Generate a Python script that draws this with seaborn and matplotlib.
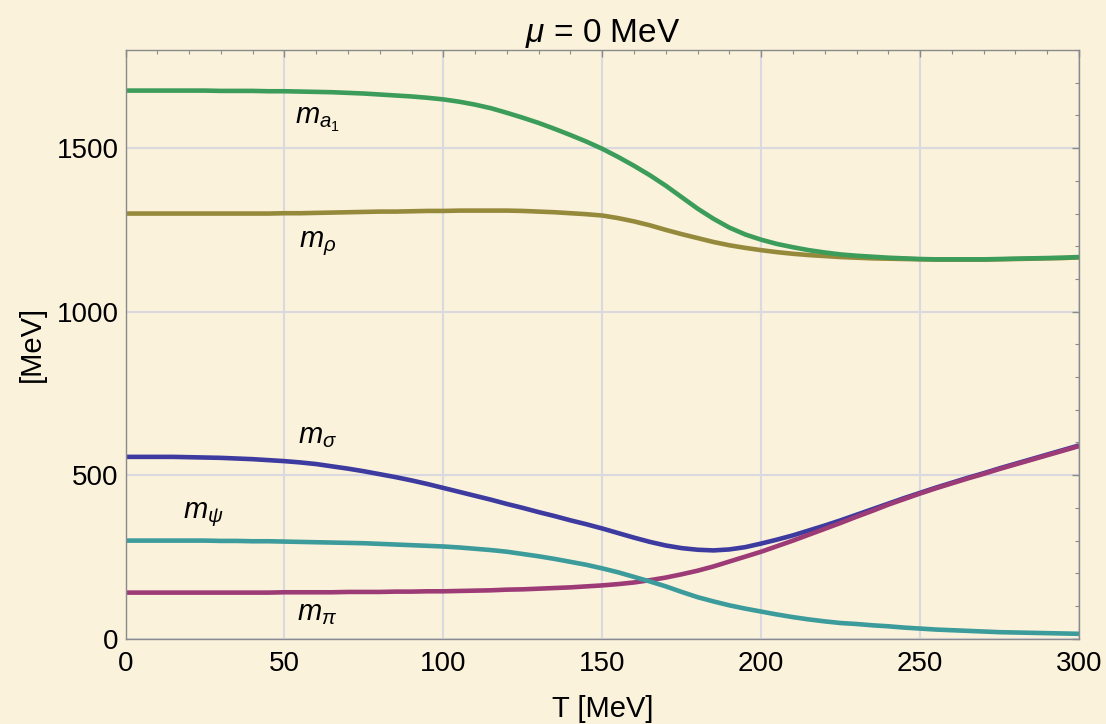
import numpy as np
import pandas as pd
import matplotlib
matplotlib.use("Agg")
import matplotlib.pyplot as plt
import seaborn as sns
from matplotlib.ticker import MultipleLocator

# Temperature grid (MeV), 5 MeV steps
T = list(range(0, 301, 5))

# Meson / quark masses (MeV) at mu = 0
m_a1 = [1676, 1676, 1676, 1676, 1676, 1676, 1675, 1675, 1675, 1674, 1674, 1673,
        1672, 1671, 1669, 1667, 1664, 1661, 1658, 1654, 1649, 1642, 1633, 1622,
        1608, 1593, 1577, 1559, 1540, 1520, 1498, 1473, 1446, 1417, 1385, 1350,
        1315, 1284, 1257, 1236, 1220, 1207, 1197, 1188, 1181, 1175, 1171, 1168,
        1165, 1163, 1161, 1160, 1160, 1160, 1160, 1161, 1162, 1163, 1164, 1165,
        1167]
m_rho = [1300, 1300, 1300, 1300, 1300, 1300, 1300, 1300, 1300, 1300, 1301, 1301,
         1302, 1303, 1304, 1305, 1306, 1306, 1307, 1308, 1308, 1309, 1309, 1309,
         1309, 1308, 1306, 1304, 1301, 1298, 1294, 1286, 1276, 1264, 1250, 1237,
         1225, 1213, 1203, 1195, 1188, 1182, 1177, 1173, 1170, 1167, 1165, 1163,
         1162, 1161, 1160, 1159, 1159, 1159, 1159, 1160, 1161, 1162, 1163, 1164,
         1166]
m_sigma = [556, 556, 556, 556, 555, 554, 553, 551, 549, 546, 543, 539, 534, 527,
           520, 512, 503, 494, 484, 473, 461, 449, 437, 425, 412, 400, 387, 375,
           362, 350, 337, 323, 309, 296, 285, 277, 272, 270, 273, 280, 291, 303,
           316, 331, 346, 362, 379, 396, 413, 430, 446, 462, 477, 492, 506, 521,
           535, 549, 563, 577, 591]
m_pi = [141, 141, 141, 141, 141, 141, 141, 141, 141, 141, 142, 142, 142, 142, 143,
        143, 143, 144, 144, 145, 145, 146, 147, 148, 150, 151, 153, 155, 157, 160,
        163, 167, 172, 179, 187, 197, 208, 221, 236, 251, 266, 283, 300, 318, 336,
        354, 373, 391, 410, 427, 444, 460, 475, 490, 504, 519, 533, 547, 561, 575,
        589]
m_psi = [300, 300, 300, 300, 300, 300, 299, 299, 298, 298, 297, 296, 295, 294, 293,
         292, 290, 288, 286, 284, 282, 279, 275, 271, 266, 259, 252, 244, 235, 226,
         215, 203, 189, 175, 160, 143, 127, 114, 102, 92, 83, 74, 66, 59, 53, 48,
         45, 41, 38, 34, 31, 28, 26, 24, 22, 20, 19, 18, 17, 16, 15]

series = {"rho": m_rho, "a1": m_a1, "sigma": m_sigma, "pi": m_pi, "psi": m_psi}
palette = {"a1": "#3c9c5a", "rho": "#958a3b", "sigma": "#3d3ba0",
           "pi": "#9c3b76", "psi": "#3c9b9b"}

df = pd.concat([pd.DataFrame({"T": T, "m": v, "state": k}) for k, v in series.items()],
               ignore_index=True)

sns.set_theme(style="white")
plt.rcParams["font.family"] = ["Liberation Sans", "DejaVu Sans"]
plt.rcParams["mathtext.fontset"] = "custom"
plt.rcParams["mathtext.rm"] = "Liberation Sans"
plt.rcParams["mathtext.it"] = "Liberation Sans:italic"
plt.rcParams["text.color"] = "black"
plt.rcParams["axes.labelcolor"] = "black"

bg = "#fbf2dc"
fig = plt.figure(figsize=(11.06, 7.24), dpi=100, facecolor=bg)
ax = fig.add_axes([0.1135, 0.1178, 0.8621, 0.8131])
ax.set_facecolor(bg)

sns.lineplot(data=df, x="T", y="m", hue="state", hue_order=list(series.keys()),
             palette=palette, linewidth=3.3, legend=False, ax=ax, estimator=None,
             sort=True)
for ln in ax.lines:
    ln.set_solid_joinstyle("round")
    ln.set_solid_capstyle("butt")

ax.set_xlim(0, 300)
ax.set_ylim(0, 1800)
ax.xaxis.set_major_locator(MultipleLocator(50))
ax.xaxis.set_minor_locator(MultipleLocator(10))
ax.yaxis.set_major_locator(MultipleLocator(500))
ax.yaxis.set_minor_locator(MultipleLocator(100))

ax.grid(True, which="major", color="#d9d9df", linewidth=1.5)
ax.set_axisbelow(True)

for s in ax.spines.values():
    s.set_color("#8a8a8a")
    s.set_linewidth(1.0)

ax.tick_params(which="both", direction="in", top=True, right=True,
               color="#8a8a8a", labelsize=20, labelcolor="black")
ax.tick_params(which="major", length=5, width=1.0)
ax.tick_params(which="minor", length=3, width=0.8)
ax.tick_params(axis="x", which="major", pad=9)
ax.tick_params(axis="y", which="major", pad=5)

ax.set_xlabel("T [MeV]", fontsize=21, labelpad=13, color="black")
ax.set_ylabel("[MeV]", fontsize=21, labelpad=8, color="black")
ax.set_title(r"$\mu$ = 0 MeV", fontsize=24, pad=6, color="black")

labels = [(53.3, 1575, r"$m_{a_1}$"), (54.6, 1196, r"$m_{\rho}$"),
          (54.3, 598, r"$m_{\sigma}$"), (18.0, 369, r"$m_{\psi}$"),
          (54.0, 57, r"$m_{\pi}$")]
for x, y, t in labels:
    ax.text(x, y, t, fontsize=21, ha="left", va="baseline", color="black")

fig.savefig("out.png", dpi=100, facecolor=bg)
